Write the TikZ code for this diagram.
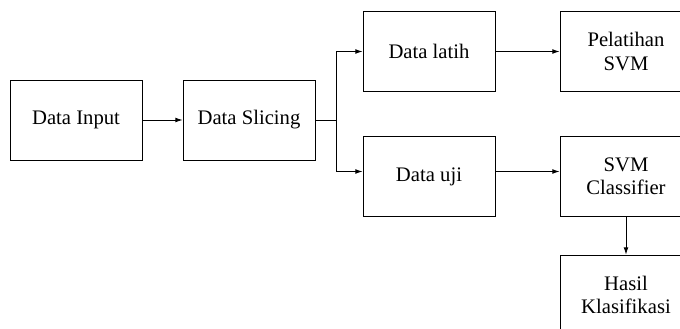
\documentclass[tikz,border=0pt]{standalone}
\usepackage{fontspec}
\setmainfont{Liberation Serif}
\usetikzlibrary{positioning,arrows.meta}
\begin{document}
\begin{tikzpicture}[x=0.025cm, y=-0.025cm, line width=0.6pt, >={Latex[length=1.8mm,width=1.2mm]},
    box/.style = {draw, minimum width=3.3cm, minimum height=2cm, align=center, inner sep=2pt, font=\fontsize{14.7}{16.5}\selectfont}]
    \useasboundingbox (0,0) rectangle (680,329);
    \node[box] (input) at (76,120) {Data Input};
    \node[box] (slicing) at (249,120) {Data Slicing};
    \node[box] (latih) at (429,51.5) {Data latih};
    \node[box] (uji) at (429,176.5) {Data uji};
    \node[box] (pelatihan) at (626,51.5) {Pelatihan\\SVM};
    \node[box] (classifier) at (626,176.5) {SVM\\Classifier};
    \node[box] (hasil) at (626,295) {Hasil\\Klasifikasi};
    \coordinate (split) at (336,120);
    \draw[->] (input) -- (slicing);
    \draw (slicing) -- (split);
    \draw[->] (split) |- (latih);
    \draw[->] (split) |- ([yshift=0.125cm]uji.west);
    \draw[->] (latih) -- (pelatihan);
    \draw[->] ([yshift=0.125cm]uji.east) -- ([yshift=0.125cm]classifier.west);
    \draw[->] (classifier) -- (hasil);
\end{tikzpicture}
\end{document}
